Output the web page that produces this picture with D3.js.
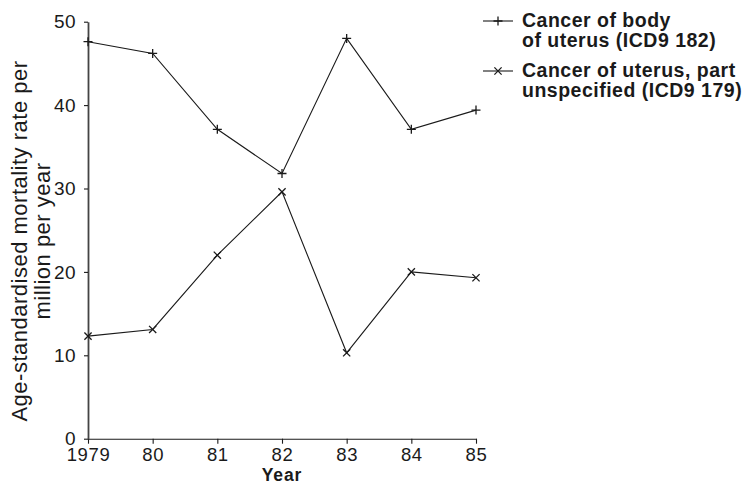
<!DOCTYPE html>
<html><head><meta charset="utf-8">
<script src="https://cdn.jsdelivr.net/npm/d3@7"></script>
<style>
html,body{margin:0;padding:0;background:#fff;}
svg{display:block;font-family:"Liberation Sans",Arial,Helvetica,sans-serif;}
</style></head>
<body><svg id="chart" width="747" height="484"></svg>
<script>
const years = [1979, 1980, 1981, 1982, 1983, 1984, 1985];
const tickLabels = ["1979", "80", "81", "82", "83", "84", "85"];
const yTicks = [0, 10, 20, 30, 40, 50];
const bodyUterus = [47.6, 46.2, 37.1, 31.8, 48.0, 37.1, 39.4];
const uterusUnspecified = [12.3, 13.1, 22.0, 29.6, 10.3, 20.0, 19.3];
const seriesNames = [
  ["Cancer of body", "of uterus (ICD9 182)"],
  ["Cancer of uterus, part", "unspecified (ICD9 179)"]
];

const svg = d3.select("#chart");
const x = d3.scaleLinear().domain([1979, 1985]).range([88, 476]);
const y = d3.scaleLinear().domain([0, 50]).range([438.7, 21.7]);
const ink = "#1a1a1a";

// axes
const xAxis = d3.axisBottom(x).tickValues(years).tickFormat((d, i) => tickLabels[i]).tickSize(5).tickSizeOuter(0);
const gx = svg.append("g").attr("transform", `translate(0,${y(0)})`).call(xAxis);
gx.select(".domain").attr("stroke", ink).attr("stroke-width", 1.1);
gx.selectAll(".tick line").attr("stroke", ink).attr("stroke-width", 1.1);
gx.selectAll(".tick text").attr("fill", ink).attr("font-size", 18.5).attr("letter-spacing", 0.6)
  .attr("font-family", "Liberation Sans, Arial, sans-serif").attr("dy", null).attr("y", 22.5);

const yAxis = d3.axisLeft(y).tickValues(yTicks).tickSize(4).tickSizeOuter(0);
const gy = svg.append("g").attr("transform", `translate(${x(1979)},0)`).call(yAxis);
gy.select(".domain").attr("stroke", "#444").attr("stroke-width", 1.8);
gy.selectAll(".tick line").attr("stroke", ink).attr("stroke-width", 1.1);
gy.selectAll(".tick text").attr("fill", ink).attr("font-size", 19).attr("letter-spacing", 0.4)
  .attr("font-family", "Liberation Sans, Arial, sans-serif").attr("x", -12).attr("dy", "0.33em");

// axis titles
svg.append("text").attr("x", (x(1979) + x(1985)) / 2).attr("y", 480.5).attr("text-anchor", "middle")
  .attr("font-size", 17.5).attr("font-weight", "bold").attr("letter-spacing", 0.9).attr("fill", ink).text("Year");
const yt = svg.append("text").attr("transform", "translate(0,241) rotate(-90)").attr("text-anchor", "middle")
  .attr("font-size", 22).attr("letter-spacing", 0.5).attr("fill", ink);
yt.append("tspan").attr("x", 0).attr("y", 27).text("Age-standardised mortality rate per");
yt.append("tspan").attr("x", 0).attr("y", 50).text("million per year");

// lines
const line = d3.line().x((d, i) => x(years[i])).y(d => y(d));
function plusPath(s){ return `M${-s},0H${s}M0,${-s}V${s}`; }
function crossPath(s){ return `M${-s},${-s}L${s},${s}M${-s},${s}L${s},${-s}`; }

const series = [
  {vals: bodyUterus, marker: plusPath(4.5)},
  {vals: uterusUnspecified, marker: crossPath(3.6)}
];
series.forEach(s => {
  svg.append("path").datum(s.vals).attr("d", line).attr("fill", "none").attr("stroke", ink).attr("stroke-width", 1.1);
  svg.append("g").selectAll("path").data(s.vals).join("path")
    .attr("transform", (d, i) => `translate(${x(years[i])},${y(d)})`)
    .attr("d", s.marker).attr("stroke", ink).attr("stroke-width", 1.3).attr("fill", "none");
});

// legend
const legY = [21, 71];
series.forEach((s, k) => {
  const g = svg.append("g").attr("transform", `translate(0,${legY[k]})`);
  g.append("line").attr("x1", 483).attr("x2", 513).attr("y1", 0).attr("y2", 0).attr("stroke", ink).attr("stroke-width", 1.1);
  g.append("path").attr("transform", "translate(498,0)").attr("d", s.marker).attr("stroke", ink).attr("stroke-width", 1.3).attr("fill", "none");
  const t = g.append("text").attr("font-size", 19.5).attr("font-weight", "bold").attr("letter-spacing", 0.5).attr("fill", ink);
  t.append("tspan").attr("x", 522).attr("y", 6).text(seriesNames[k][0]);
  t.append("tspan").attr("x", 522).attr("y", 26).text(seriesNames[k][1]);
});
</script></body></html>
